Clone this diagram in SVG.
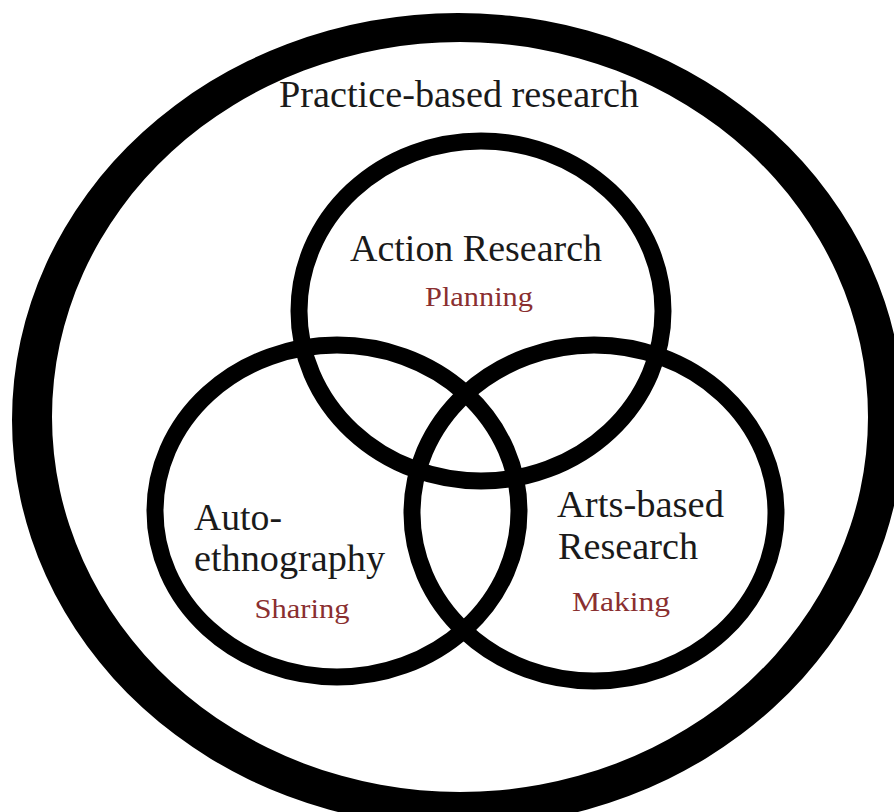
<svg xmlns="http://www.w3.org/2000/svg" width="894" height="812" viewBox="0 0 894 812">
  <style>
    .ring { fill: none; stroke: #000; stroke-width: 17; }
    .title { font-family: "Liberation Serif", "DejaVu Serif", serif; font-size: 38px; fill: #1a1a1a; }
    .sub { font-family: "Liberation Serif", "DejaVu Serif", serif; font-size: 28px; fill: #8a2f30; }
  </style>
  <rect width="894" height="812" fill="#fff"/>

  <!-- Outer boundary: thick hand-drawn band -->
  <g id="practice-based-research">
    <path fill="#000" fill-rule="evenodd"
      d="M 12 420 A 446 407 0 1 0 904 420 A 446 407 0 1 0 12 420 Z
         M 52 417 A 408 375 0 1 0 868 417 A 408 375 0 1 0 52 417 Z"/>
    <text class="title" x="459" y="107" text-anchor="middle" textLength="360" lengthAdjust="spacingAndGlyphs">Practice-based research</text>
  </g>

  <!-- Three overlapping methods -->
  <g id="action-research">
    <ellipse class="ring" cx="481" cy="311" rx="182" ry="170"/>
    <text class="title" x="476" y="261" text-anchor="middle" textLength="252" lengthAdjust="spacingAndGlyphs">Action Research</text>
    <text class="sub" x="479" y="306" text-anchor="middle" textLength="108" lengthAdjust="spacingAndGlyphs">Planning</text>
  </g>

  <g id="auto-ethnography">
    <ellipse class="ring" cx="337" cy="511" rx="182" ry="166"/>
    <text class="title" x="194" y="530" textLength="88" lengthAdjust="spacingAndGlyphs">Auto-</text>
    <text class="title" x="194" y="571" textLength="191" lengthAdjust="spacingAndGlyphs">ethnography</text>
    <text class="sub" x="302" y="618" text-anchor="middle" textLength="95" lengthAdjust="spacingAndGlyphs">Sharing</text>
  </g>

  <g id="arts-based-research">
    <ellipse class="ring" cx="594" cy="513" rx="182" ry="168"/>
    <text class="title" x="557" y="517" textLength="167" lengthAdjust="spacingAndGlyphs">Arts-based</text>
    <text class="title" x="558" y="559" textLength="140" lengthAdjust="spacingAndGlyphs">Research</text>
    <text class="sub" x="621" y="611" text-anchor="middle" textLength="98" lengthAdjust="spacingAndGlyphs">Making</text>
  </g>
</svg>
